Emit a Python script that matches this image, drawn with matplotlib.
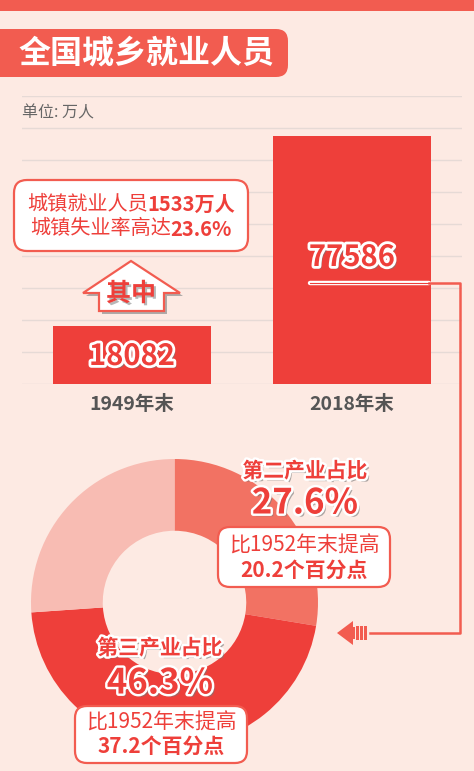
import matplotlib
matplotlib.use("Agg")
import matplotlib.pyplot as plt
import matplotlib.patheffects as pe
from matplotlib.patches import FancyBboxPatch, Polygon, Rectangle
import numpy as np

plt.rcParams['font.family'] = ['Noto Sans CJK SC', 'DejaVu Sans']

# ---------------- data ----------------
title = "全国城乡就业人员"
unit_label = "单位: 万人"
years = ["1949年末", "2018年末"]
employed = [18082, 77586]
share_labels = ["第二产业", "第三产业", "第一产业"]
share_values = [27.6, 46.3, 26.1]
callout_lines = [("城镇就业人员", "1533万人"), ("城镇失业率高达", "23.6%")]
second_text = ("第二产业占比", "27.6%", "比1952年末提高", "20.2个百分点")
third_text = ("第三产业占比", "46.3%", "比1952年末提高", "37.2个百分点")

# ---------------- style ----------------
BG = "#FDEAE3"
RED = "#EE3F3A"
CORAL = "#F27263"
PINK = "#F8BCB3"
STRIPE = "#F25C50"
GRID = "#E6DAD6"
W, H = 474, 771

fig = plt.figure(figsize=(W / 100, H / 100), dpi=100, facecolor=BG)


def fx(x):
    return x / W


def fy(y):
    return 1 - y / H


# bar axes: x from 22 to 462 px, value 0 at y=384, 90000 at y=96
axb = fig.add_axes([fx(22), fy(384), fx(462) - fx(22), (384 - 96) / H])
axb.set_facecolor("none")
xpos = np.arange(len(years))
axb.bar(xpos, employed, width=0.715, color=RED, zorder=3)
axb.set_xlim(-0.5, 1.5)
axb.set_ylim(0, 90000)
axb.set_yticks(np.arange(0, 90001, 10000))
axb.yaxis.grid(True, color=GRID, linewidth=1.0, zorder=0)
axb.tick_params(left=False, bottom=False, labelleft=False, labelbottom=False)
for s in axb.spines.values():
    s.set_visible(False)

# donut axes
cx, cy, R = 174.5, 602.5, 143.5
axp = fig.add_axes([fx(cx - R), fy(cy + R), 2 * R / W, 2 * R / H])
axp.pie(share_values, colors=[CORAL, RED, PINK], startangle=90, counterclock=False,
        radius=1.0, wedgeprops=dict(width=0.5, linewidth=0))
axp.set_xlim(-1, 1)
axp.set_ylim(-1, 1)
axp.set_aspect("auto")
axp.axis("off")

# overlay axes in pixel coordinates
ov = fig.add_axes([0, 0, 1, 1])
ov.set_xlim(0, W)
ov.set_ylim(H, 0)
ov.axis("off")
ov.set_zorder(10)
ov.patch.set_visible(False)

# top stripe
ov.add_patch(Rectangle((0, 0), W, 10.5, color=STRIPE, lw=0))
# title box
ov.add_patch(FancyBboxPatch((-20, 29), 308, 48, boxstyle="round,pad=0,rounding_size=12",
                            fc=STRIPE, ec="none"))
ov.text(18, 54, title, color="white", fontsize=23, fontweight="bold", va="center", ha="left")
ov.text(22, 113, unit_label, color="#666666", fontsize=11.5, va="center", ha="left")

# bar value labels
value_fx = [pe.SimplePatchShadow(offset=(2, -2), shadow_rgbFace="#777777", alpha=0.7),
            pe.withStroke(linewidth=4, foreground="white")]
for i, v in enumerate(employed):
    xc = 22 + (xpos[i] + 0.5) * 220
    yc = 356 if i == 0 else 257
    ov.text(xc, yc, f"{v}", color=RED, fontsize=21, fontweight="bold", ha="center",
            va="center", path_effects=value_fx)
    ov.text(xc, 405, years[i], color="#555555", fontsize=14, fontweight="bold",
            ha="center", va="center")

# callout box
ov.add_patch(FancyBboxPatch((14, 180), 234, 71, boxstyle="round,pad=0,rounding_size=13",
                            fc="white", ec=STRIPE, lw=1.6))

fig.canvas.draw()
renderer = fig.canvas.get_renderer()


def two_part(xcenter, y, a, b, size, color, wa="normal", wb="bold", **kw):
    t1 = ov.text(0, y, a, fontsize=size, color=color, fontweight=wa, ha="left", va="center", **kw)
    t2 = ov.text(0, y, b, fontsize=size, color=color, fontweight=wb, ha="left", va="center", **kw)
    w1 = t1.get_window_extent(renderer).width
    w2 = t2.get_window_extent(renderer).width
    left = xcenter - (w1 + w2) / 2
    t1.set_x(left)
    t2.set_x(left + w1)


two_part(131, 204, *callout_lines[0], 14.5, RED)
two_part(131, 229, *callout_lines[1], 14.5, RED)

# "其中" up arrow
arrow_pts = [(131, 261), (180, 293), (164, 293), (164, 311), (99, 311), (99, 293), (83, 293)]
ov.add_patch(Polygon([(x + 3, y + 3) for x, y in arrow_pts], closed=True, fc="#9A9A9A",
                     ec="none", alpha=0.8))
ov.add_patch(Polygon(arrow_pts, closed=True, fc="white", ec=STRIPE, lw=1.6))
ov.text(131, 294, "其中", color=RED, fontsize=18, fontweight="bold", ha="center", va="center",
        path_effects=[pe.SimplePatchShadow(offset=(1.5, -1.5), shadow_rgbFace="#888888", alpha=0.6),
                      pe.Normal()])

# connector line
ov.plot([310, 429], [283, 283], color="white", lw=3.2, solid_capstyle="round", zorder=5)
ov.plot([310, 429], [283, 283], color=RED, lw=0.8, zorder=6)
ov.plot([429, 460, 460, 370], [283, 283, 633, 633], color=STRIPE, lw=1.8, zorder=5)
ov.add_patch(Polygon([(337, 633), (353, 621), (353, 645)], closed=True, fc=STRIPE, ec="none"))
ov.add_patch(Rectangle((351, 627), 4, 12, fc=STRIPE, ec="none"))
for xs in (356.5, 360.5, 364.5):
    ov.add_patch(Rectangle((xs, 626), 2.2, 14, fc=STRIPE, ec="none"))

# donut annotations
lab_fx = [pe.SimplePatchShadow(offset=(2, -2), shadow_rgbFace="#777777", alpha=0.6),
          pe.withStroke(linewidth=3.5, foreground="white")]


def share_block(xc, y_title, y_val, box, y1, y2, texts):
    ov.text(xc, y_title, texts[0], color=RED, fontsize=15, fontweight="bold", ha="center",
            va="center", path_effects=lab_fx)
    ov.text(xc, y_val, texts[1], color=RED, fontsize=25, fontweight="bold", ha="center",
            va="center", path_effects=lab_fx)
    bx, by, bw, bh = box
    ov.add_patch(FancyBboxPatch((bx, by), bw, bh, boxstyle="round,pad=0,rounding_size=12",
                                fc="white", ec=STRIPE, lw=1.6))
    ov.text(bx + bw / 2, y1, texts[2], color=RED, fontsize=15, ha="center", va="center")
    ov.text(bx + bw / 2, y2, texts[3], color=RED, fontsize=15, fontweight="bold",
            ha="center", va="center")


share_block(305, 471, 503, (218, 527, 172, 60), 546, 570, second_text)
share_block(160, 648, 683, (75, 706, 172, 57), 723, 746, third_text)

fig.savefig("out.png", dpi=100, facecolor=BG)
